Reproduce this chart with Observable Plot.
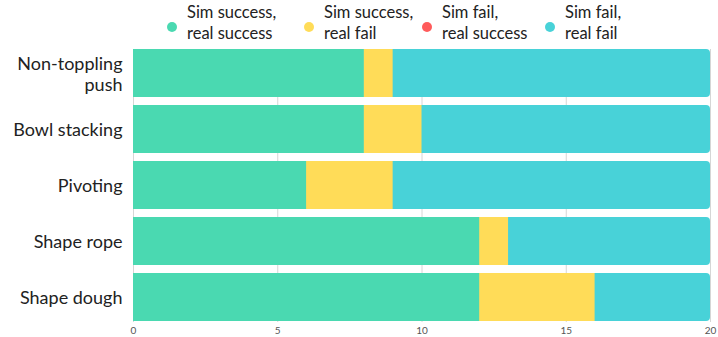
<!DOCTYPE html>
<html>
<head>
<meta charset="utf-8">
<script src="https://cdn.jsdelivr.net/npm/d3@7"></script>
<script src="https://cdn.jsdelivr.net/npm/@observablehq/plot@0.6"></script>
<style>
  html, body { margin: 0; padding: 0; background: #fff; }
  body { width: 718px; height: 337px; overflow: hidden; font-family: Lato, "Noto Sans", sans-serif; }
  #legend { position: relative; height: 46px; }
  .item { position: absolute; top: 2px; display: flex; align-items: center; }
  .dot { width: 10px; height: 10px; border-radius: 50%; margin-right: 10px; margin-top: 8px; }
  .lab { font-size: 16.5px; font-weight: 400; line-height: 21px; color: #222; white-space: nowrap; }
</style>
</head>
<body>
<div id="legend"></div>
<div id="chart"></div>
<script>
const categories = ["Non-toppling\npush", "Bowl stacking", "Pivoting", "Shape rope", "Shape dough"];
const seriesNames = ["Sim success,\nreal success", "Sim success,\nreal fail", "Sim fail,\nreal success", "Sim fail,\nreal fail"];
const simSuccessRealSuccess = [8, 8, 6, 12, 12];
const simSuccessRealFail = [1, 2, 3, 1, 4];
const simFailRealSuccess = [0, 0, 0, 0, 0];
const simFailRealFail = [11, 10, 11, 7, 4];
const xTicks = [0, 5, 10, 15, 20];

const colors = ["#4ad9b1", "#ffdc58", "#ff5b5b", "#48d2d8"];
const seriesValues = [simSuccessRealSuccess, simSuccessRealFail, simFailRealSuccess, simFailRealFail];

// legend
const legendLeft = [167, 304, 422, 545];
const legend = document.getElementById("legend");
seriesNames.forEach((name, i) => {
  const it = document.createElement("div");
  it.className = "item";
  it.style.left = legendLeft[i] + "px";
  const d = document.createElement("div");
  d.className = "dot";
  d.style.background = colors[i];
  const l = document.createElement("div");
  l.className = "lab";
  l.innerHTML = name.split("\n").join("<br>");
  it.appendChild(d); it.appendChild(l);
  legend.appendChild(it);
});

const rows = [];
categories.forEach((c, ci) => {
  seriesValues.forEach((arr, si) => {
    rows.push({category: c, series: seriesNames[si], value: arr[ci]});
  });
});
const totals = categories.map((c, ci) => ({category: c, total: seriesValues.reduce((s, a) => s + a[ci], 0)}));
const frontRows = rows.filter(r => r.series !== seriesNames[3]);

const chart = Plot.plot({
  width: 718,
  height: 291,
  marginLeft: 133,
  marginRight: 8,
  marginTop: 3,
  marginBottom: 15,
  style: {fontFamily: "Lato, 'Noto Sans', sans-serif", background: "#fff"},
  x: {domain: [0, 20]},
  y: {domain: categories, paddingInner: 0.14, paddingOuter: 0},
  color: {domain: seriesNames, range: colors},
  marks: [
    Plot.gridX(xTicks, {stroke: "#d6d6d6", strokeOpacity: 1, strokeWidth: 1}),
    // full-length rounded bar carrying the last series colour (right end rounded)
    Plot.barX(totals, {x1: 0, x2: "total", y: "category", fill: colors[3], rx: 4}),
    Plot.barX(frontRows, {x: "value", y: "category", fill: "series", order: seriesNames.slice(0, 3)}),
    Plot.axisX({ticks: xTicks, tickSize: 0, tickPadding: 4, fontSize: 10, color: "#555", label: null}),
    Plot.axisY({tickSize: 0, tickPadding: 11, fontSize: 18, fontWeight: 400, lineHeight: 1.17, color: "#222", label: null})
  ]
});
document.getElementById("chart").appendChild(chart);
</script>
</body>
</html>
